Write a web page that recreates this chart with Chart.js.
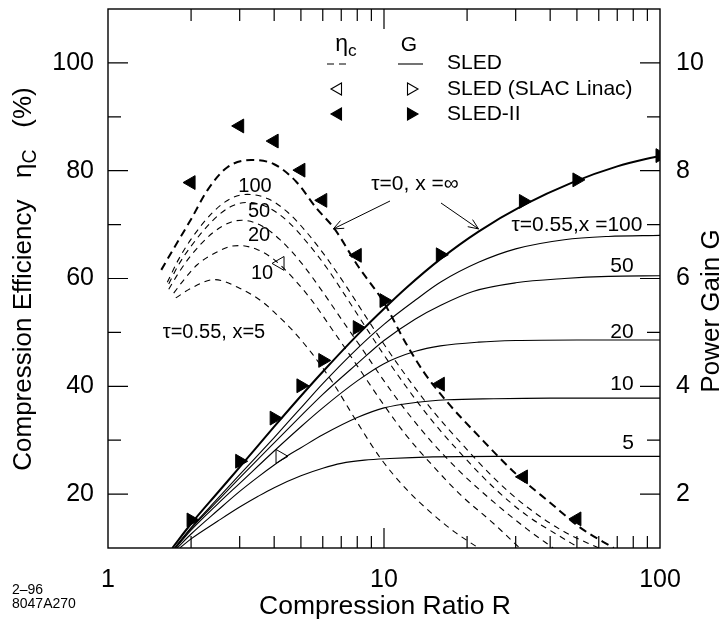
<!DOCTYPE html>
<html>
<head>
<meta charset="utf-8">
<script src="https://cdn.jsdelivr.net/npm/chart.js@4.4.1/dist/chart.umd.min.js"></script>
<style>
html,body{margin:0;padding:0;background:#fff}
</style>
</head>
<body>
<canvas id="graficoSled" width="725" height="627"></canvas>
<script>
let grafico

// eficiência de compressão ηc (%) - curvas tracejadas (τ=0 x=∞ e τ=0.55 x=100,50,20,10,5)
const rEtaInf=[1.56,1.75,2,2.3,2.7,3.3,4,4.8,5.7,6.6,8,10,12,14,17,22,30,40,52,68]
const etaInf=[61.6,66,71,76.5,80.6,82,81.2,78,73,69.3,62.5,55.5,48,42.5,37,30.8,23.8,18.4,13.6,10]
const rEta100=[1.64,1.8,2,2.4,2.8,3.2,3.8,4.5,5.3,6.2,7.2,8.5,10,12,15,19,25,33,45,60]
const eta100=[59.3,63.5,67.3,72.3,74.9,75.6,74.8,72.2,68.3,63.8,59,53.3,47.8,42,35.5,29.5,23,17.6,13,10]
const rEta50=[1.66,1.8,2,2.4,2.8,3.2,3.8,4.5,5.3,6.2,7.2,8.5,10,12,15,19,25,33,42,51]
const eta50=[59,62.5,66,70.8,73.4,74.1,73.2,70.5,66.5,62,57,51.3,45.8,40,33.5,27.5,21.2,16,12.6,10]
const rEta20=[1.66,1.8,2,2.4,2.8,3.06,3.6,4.2,5,6,7,8.5,10,12,15,19,25,33,41]
const eta20=[58,61,64.3,68.5,70.5,70.8,69.8,67.2,63,57.5,52.5,46.3,41,35.5,29.5,24,18.5,13.5,10]
const rEta10=[1.73,1.9,2.1,2.5,2.8,3,3.5,4,4.7,5.5,6.5,8,10,12,15,19,25,31]
const eta10=[57.3,60,62.5,65,66,66.1,65.3,63.5,60,55.8,50.5,43.8,36.5,31,25.3,19.8,14.5,10]
const rEta5=[1.76,2,2.43,3.05,3.6,4.05,4.66,5.5,6.5,8,9.7,12,15,18,22]
const eta5=[56.4,58.2,59.8,58,55.8,53.5,50.4,46,40.8,33.3,26.7,21,16.3,13,10]

// ganho de potência G - curvas contínuas
const rGInf=[1.71,2,2.5,3,4,5,6,8,10,12,16,22,32,48,70,100]
const gInf=[1,1.45,2.03,2.5,3.25,3.82,4.27,4.95,5.44,5.82,6.36,6.87,7.36,7.78,8.08,8.28]
const rG100=[1.74,2,2.5,3,4,5,6,8,10,13,16,22,30,45,65,100]
const g100=[1,1.38,1.92,2.36,3.05,3.6,4.05,4.7,5.15,5.6,5.93,6.3,6.55,6.72,6.78,6.8]
const rG50=[1.75,2,2.5,3,4,5,6,8,10,13,16,21,30,45,65,100]
const g50=[1,1.36,1.88,2.3,2.95,3.45,3.85,4.42,4.85,5.25,5.5,5.76,5.92,6,6.04,6.05]
const rG20=[1.76,2,2.5,3,4,5,6,8,10,13,16,22,30,50,100]
const g20=[1,1.33,1.82,2.2,2.8,3.25,3.6,4.1,4.42,4.65,4.75,4.82,4.85,4.86,4.86]
const rG10=[1.78,2,2.5,3,3.5,4,4.5,5,6,8,10,13,17,25,40,100]
const g10=[1,1.26,1.7,2.05,2.32,2.54,2.72,2.86,3.1,3.42,3.6,3.7,3.75,3.77,3.78,3.78]
const rG5=[1.82,2,2.5,3,3.5,4,5,6,7,8.5,10.5,15,25,50,100]
const g5=[1,1.17,1.5,1.76,1.96,2.12,2.34,2.48,2.57,2.63,2.66,2.69,2.7,2.7,2.7]

// medidas: SLED (SLAC Linac) e SLED-II
const rSlac=[4.2]
const etaSlac=[62.8]
const gSlac=[2.7]
const rEtaSled2=[2,3,4,5,6,8,16,32,50]
const etaSled2=[77.8,88.3,85.5,80.1,74.5,64.3,40.4,23.2,15.4]
const rGSled2=[2,3,4,5,6,8,10,16,32,50,100]
const gSled2=[1.52,2.61,3.41,4.01,4.48,5.09,5.59,6.44,7.43,7.83,8.28]

// eixos
const ticksR=[1,10,100]
const ticksEta=[20,40,60,80,100]
const ticksG=[2,4,6,8,10]

const fonte="'Liberation Sans', Arial, Helvetica, sans-serif"

function pontos(xs,ys){
return xs.map((x,i)=>({x:x,y:ys[i]}))
}

function curva(xs,ys,eixo,tracejado,grossa){
return {
data:pontos(xs,ys),
yAxisID:eixo,
showLine:true,
borderColor:"#000",
borderWidth:grossa?2:1.1,
borderDash:tracejado?(grossa?[8,5]:[6,5]):[],
pointRadius:0,
fill:false,
cubicInterpolationMode:"monotone"
}
}

function marcador(xs,ys,eixo,rot,cheio){
return {
data:pontos(xs,ys),
yAxisID:eixo,
showLine:false,
pointStyle:"triangle",
pointRotation:rot,
pointRadius:8,
pointBorderWidth:1,
pointBorderColor:"#000",
pointBackgroundColor:cheio?"#000":"#fff"
}
}

// texto com subíndice (ηc)
function textoSub(ctx,partes,x,y,tam,align){
let larg=0
partes.forEach(p=>{ctx.font=(p.sub?tam*0.75:tam)+"px "+fonte;larg+=ctx.measureText(p.t).width})
let cx=align==="center"?x-larg/2:x
partes.forEach(p=>{
const t=p.sub?tam*0.75:tam
ctx.font=t+"px "+fonte
ctx.textAlign="left"
ctx.fillText(p.t,cx,y+(p.sub?tam*0.25:0))
cx+=ctx.measureText(p.t).width
})
}

function seta(ctx,x1,y1,x2,y2){
const ang=Math.atan2(y2-y1,x2-x1)
ctx.beginPath()
ctx.moveTo(x1,y1)
ctx.lineTo(x2,y2)
ctx.moveTo(x2-11*Math.cos(ang-0.4),y2-11*Math.sin(ang-0.4))
ctx.lineTo(x2,y2)
ctx.lineTo(x2-11*Math.cos(ang+0.4),y2-11*Math.sin(ang+0.4))
ctx.stroke()
}

// sem folga extra em volta dos eixos
function semFolga(s){
s.paddingTop=0
s.paddingBottom=0
s.paddingLeft=0
s.paddingRight=0
}

// moldura, marcas internas, legenda e rótulos
const extras={
id:"extras",
afterDraw(chart){
const ctx=chart.ctx
const a=chart.chartArea
const sx=chart.scales.x
const sy=chart.scales.y
const sg=chart.scales.g
ctx.save()
ctx.strokeStyle="#000"
ctx.fillStyle="#000"
ctx.lineWidth=1.4
ctx.strokeRect(a.left,a.top,a.right-a.left,a.bottom-a.top)

ctx.lineWidth=1.2
ctx.beginPath()
for(const d of [1,10]){
for(let k=1;k<=9;k++){
const v=d*k
if(v===1) continue
const px=sx.getPixelForValue(v)
const len=k===1?20:12
ctx.moveTo(px,a.bottom);ctx.lineTo(px,a.bottom-len)
ctx.moveTo(px,a.top);ctx.lineTo(px,a.top+len)
}
}
for(let v=20;v<=100;v+=10){
const py=sy.getPixelForValue(v)
ctx.moveTo(a.left,py);ctx.lineTo(a.left+(v%20===0?20:13),py)
}
for(let v=2;v<=10;v++){
const py=sg.getPixelForValue(v)
ctx.moveTo(a.right,py);ctx.lineTo(a.right-(v%2===0?20:13),py)
}
ctx.stroke()

// títulos dos eixos
ctx.textBaseline="middle"
ctx.save()
ctx.translate(24,279)
ctx.rotate(-Math.PI/2)
textoSub(ctx,[{t:"Compression Efficiency   η"},{t:"C",sub:true},{t:"   (%)"}],0,0,26,"center")
ctx.restore()
ctx.save()
ctx.translate(712,311)
ctx.rotate(-Math.PI/2)
ctx.font="26px "+fonte
ctx.textAlign="center"
ctx.fillText("Power Gain G",0,0)
ctx.restore()
ctx.font="26.5px "+fonte
ctx.textAlign="center"
ctx.fillText("Compression Ratio R",385,607)
ctx.font="14px "+fonte
ctx.textAlign="left"
ctx.fillText("2–96",12,590)
ctx.fillText("8047A270",12,604)

// legenda
textoSub(ctx,[{t:"η"},{t:"c",sub:true}],346,45,23,"center")
ctx.font="21px "+fonte
ctx.textAlign="center"
ctx.fillText("G",409,45)
ctx.lineWidth=1.1
ctx.setLineDash([7,5])
ctx.beginPath();ctx.moveTo(327,64);ctx.lineTo(350,64);ctx.stroke()
ctx.setLineDash([])
ctx.beginPath();ctx.moveTo(398,64);ctx.lineTo(423,64);ctx.stroke()
const H=Chart.helpers
const estilo=(rot)=>({pointStyle:"triangle",rotation:rot,radius:7,borderWidth:1})
ctx.fillStyle="#fff"
H.drawPoint(ctx,estilo(-90),338,89)
H.drawPoint(ctx,estilo(90),411,89)
ctx.fillStyle="#000"
H.drawPoint(ctx,estilo(-90),338,114)
H.drawPoint(ctx,estilo(90),411,114)
ctx.font="21px "+fonte
ctx.textAlign="left"
ctx.fillText("SLED",447,63)
ctx.fillText("SLED (SLAC Linac)",447,89)
ctx.fillText("SLED-II",447,114)

// rótulos das curvas
ctx.font="20px "+fonte
ctx.textAlign="center"
ctx.fillText("100",255,186)
ctx.fillText("50",259,211)
ctx.fillText("20",259,235)
ctx.fillText("10",262,273)
ctx.fillText("τ=0.55, x=5",214,332)
ctx.font="21px "+fonte
ctx.fillText("τ=0, x =∞",415,184)
ctx.fillText("τ=0.55,x =100",577,225)
ctx.fillText("50",622,266)
ctx.fillText("20",622,332)
ctx.fillText("10",622,384)
ctx.fillText("5",628,443)
ctx.lineWidth=1
seta(ctx,390,201,sx.getPixelForValue(6.55),sy.getPixelForValue(69.2))
seta(ctx,441,203,sx.getPixelForValue(22),sg.getPixelForValue(6.92))
ctx.restore()
}
}

function gerarGrafico(){
const canvas=document.getElementById("graficoSled")
if(!canvas) return
if(typeof Chart==="undefined"){
console.warn("Chart.js não carregado")
return
}
Chart.defaults.font.family=fonte
Chart.defaults.color="#000"

if(grafico) grafico.destroy()

grafico=new Chart(canvas,{
type:"scatter",
data:{
datasets:[
curva(rEtaInf,etaInf,"y",true,true),
curva(rEta100,eta100,"y",true,false),
curva(rEta50,eta50,"y",true,false),
curva(rEta20,eta20,"y",true,false),
curva(rEta10,eta10,"y",true,false),
curva(rEta5,eta5,"y",true,false),
curva(rGInf,gInf,"g",false,true),
curva(rG100,g100,"g",false,false),
curva(rG50,g50,"g",false,false),
curva(rG20,g20,"g",false,false),
curva(rG10,g10,"g",false,false),
curva(rG5,g5,"g",false,false),
marcador(rSlac,etaSlac,"y",-90,false),
marcador(rSlac,gSlac,"g",90,false),
marcador(rEtaSled2,etaSled2,"y",-90,true),
marcador(rGSled2,gSled2,"g",90,true)
]
},
options:{
responsive:false,
animation:false,
layout:{padding:{top:9,left:0,right:0,bottom:0}},
plugins:{
legend:{display:false},
tooltip:{enabled:false}
},
scales:{
x:{
type:"logarithmic",
position:"bottom",
min:1,
max:100,
grid:{display:false,drawTicks:false},
border:{display:false},
afterBuildTicks:s=>{s.ticks=ticksR.map(v=>({value:v}))},
afterFit:s=>{s.height=79;semFolga(s)},
ticks:{font:{size:25},padding:17,maxRotation:0,autoSkip:false,callback:v=>String(v)}
},
y:{
type:"linear",
position:"left",
min:10,
max:110,
grid:{display:false,drawTicks:false},
border:{display:false},
afterBuildTicks:s=>{s.ticks=ticksEta.map(v=>({value:v}))},
afterFit:s=>{s.width=108;semFolga(s)},
ticks:{font:{size:25},padding:14}
},
g:{
type:"linear",
position:"right",
min:1,
max:11,
grid:{display:false,drawTicks:false},
border:{display:false},
afterBuildTicks:s=>{s.ticks=ticksG.map(v=>({value:v}))},
afterFit:s=>{s.width=65;semFolga(s)},
ticks:{font:{size:25},padding:16}
}
}
},
plugins:[extras]
})
}

window.addEventListener("load",gerarGrafico)
</script>
</body>
</html>
